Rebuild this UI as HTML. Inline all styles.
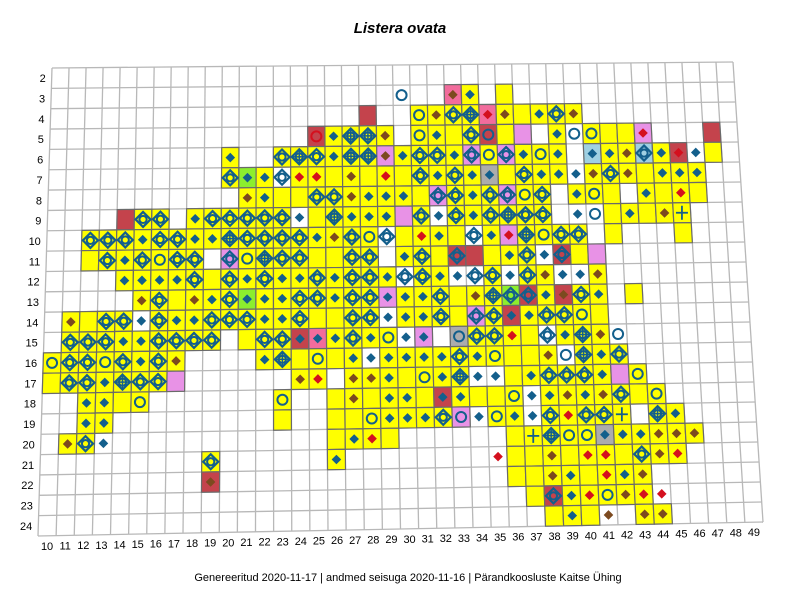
<!DOCTYPE html>
<html><head><meta charset="utf-8"><style>
body{margin:0;background:#fff;}
svg{display:block;font-family:"Liberation Sans",Arial,sans-serif;}
</style></head><body>
<svg id="map" width="800" height="600" viewBox="0 0 800 600" xmlns="http://www.w3.org/2000/svg">
<text x="400" y="33" text-anchor="middle" font-size="15" font-weight="bold" font-style="italic">Listera ovata</text>
<g id="gridg"></g><g id="cellg"></g><g id="markg"></g><g id="labg"></g>
<text x="408" y="581" text-anchor="middle" font-size="11">Genereeritud 2020-11-17  |  andmed seisuga 2020-11-16  |  Pärandkoosluste Kaitse Ühing</text>
</svg>
<script>
// grid extents
const colMin = 10, colMax = 49, rowMin = 2, rowMax = 24;
// occupied cells per row: token = col(2) + background code + marker code
const row3 = "30wo 33pb 34yd 36y-";
const row4 = "28r- 31yo 32yb 33yD 34yx 35pr 36yb 37y- 38yd 39yD 40yb";
const row5 = "25rR 26yd 27yx 28yx 29yb 31yo 32yd 33y- 34yD 35ro 36y- 37l- 39yd 40wo 41yo 42y- 43y- 44lr 48r-";
const row6 = "20yd 23yD 24yx 25yD 26yd 27yx 28yx 29lb 30yd 31yD 32yD 33yd 34lD 35yo 36lD 37yd 38yo 39yd 41bd 42yd 43yb 44bD 45yd 46rr 47wd 48y-";
const row7 = "20yD 21Gd 22yd 23wD 24yr 25yr 26y- 27yb 28y- 29yr 30y- 31yD 32yd 33yD 34yd 35gd 36y- 37yD 38yd 39yd 40wd 41yb 42yD 43yb 44y- 45yd 46yd 47yd";
const row8 = "21yb 22yd 23y- 24y- 25yD 26yD 27yb 28yd 29yd 30yd 31y- 32lD 33yD 34yd 35yD 36lD 37yo 38yD 40yd 41yo 42y- 44yd 45y- 46yr 47y-";
const row9 = "14r- 15yD 16yD 18yd 19yD 20yD 21yD 22yD 23yD 24wd 25y- 26yx 27yd 28yd 29yd 30l- 31yD 32wd 33yD 34yd 35yD 36yx 37yD 38yD 40wd 41wo 42y- 43yd 44y- 45yb 46y+";
const row10 = "12yD 13yD 14yD 15yd 16yD 17yD 18yd 19yd 20yx 21yD 22yD 23yD 24yD 25yd 26yb 27yD 28yo 29wD 30y- 31yr 32yd 33y- 34wD 35yd 36lr 37yx 38yo 39yD 40yD 42y- 46y-";
const row11 = "12y- 13yD 14yd 15yD 16yo 17yD 18yD 20lD 21yo 22yx 23yD 24yD 25y- 26y- 27yD 28yD 30yd 31yD 32y- 33rD 34r- 35y- 36yd 37yD 38wd 39rD 40y- 41l-";
const row12 = "14yd 15yd 16yd 17yd 18yD 19y- 20yD 21yd 22yD 23yd 24yd 25yD 26yd 27yD 28yD 29yd 30wD 31yD 32yd 33wd 34wD 35yD 36wd 37yD 38yb 39wd 40wd 41yb";
const row13 = "15yb 16yD 17y- 18yb 19yd 20yD 21Gd 22yd 23yd 24yD 25yD 26yd 27yD 28yD 29ld 30yd 31yd 32yD 33y- 34yb 35yx 36GD 37rD 38yd 39rb 40yD 41yd 43y-";
const row14 = "11yb 12y- 13yD 14yD 15wd 16yD 17yd 18yd 19yD 20yD 21yD 22yd 23yd 24yD 25y- 26y- 27yD 28yD 29wd 30yd 31yd 32yD 33y- 34lD 35yD 36rd 37yd 38yD 39yD 40yo 41y-";
const row15 = "11yD 12yD 13yD 14yd 15yd 16yD 17yD 18yD 19yD 21y- 22yD 23yD 24rd 25pd 26yd 27yD 28yd 29yo 30wd 31ld 33go 34yD 35yD 36yr 37y- 38wD 39yd 40yx 41yb 42wo";
const row16 = "10yo 11yD 12yD 13yo 14yD 15yd 16yD 17yb 22yd 23yx 24y- 25yo 26y- 27yd 28wd 29yd 30yd 31yd 32yd 33yD 34yd 35yo 36y- 37y- 38yb 39wo 40yx 41yd 42yD";
const row17 = "10y- 11yD 12yD 13yd 14yx 15yD 16yD 17l- 24yb 25yr 27yb 28yb 29yd 30y- 31yo 32yd 33yx 34wd 35wd 36y- 37yd 38yD 39yD 40yD 41yd 42l- 43yo";
const row18 = "12yd 13yd 14y- 15yo 23yo 26y- 27yb 28y- 29yd 30yd 31y- 32rd 33yd 34y- 35y- 36yo 37wd 38yd 39yb 40yd 41yb 42yD 43y- 44yo";
const row19 = "12yd 13yd 23y- 26y- 27y- 28yo 29yd 30yd 31yd 32yD 33lo 34wd 35yo 36yd 37wd 38yD 39yr 40yD 41yD 42y+ 44yx 45yd";
const row20 = "11yb 12yD 13wd 26y- 27yd 28yr 29y- 36y- 37y+ 38yx 39yo 40yo 41gd 42yd 43yd 44yb 45yb 46yb";
const row21 = "19yD 26yd 35wr 36y- 37y- 38yb 39y- 40yr 41yr 42y- 43yD 44yb 45yr";
const row22 = "19rb 36y- 37y- 38yb 39yd 40y- 41yr 42yd 43yb";
const row23 = "37y- 38rD 39yd 40yr 41yo 42yb 43yr 44wr";
const row24 = "38y- 39yd 40y- 41wb 43yb 44yb";
const rowData = {3:row3,4:row4,5:row5,6:row6,7:row7,8:row8,9:row9,10:row10,11:row11,12:row12,13:row13,14:row14,15:row15,16:row16,17:row17,18:row18,19:row19,20:row20,21:row21,22:row22,23:row23,24:row24};

const NS = "http://www.w3.org/2000/svg";
const TL=[52,68], TR=[733,62], BL=[38,536], BR=[763,522];
const nC = colMax-colMin+1, nR = rowMax-rowMin+1;
function P(u,v){
  return [(1-u)*(1-v)*TL[0]+u*(1-v)*TR[0]+(1-u)*v*BL[0]+u*v*BR[0],
          (1-u)*(1-v)*TL[1]+u*(1-v)*TR[1]+(1-u)*v*BL[1]+u*v*BR[1]];
}
function corner(c,r){ return P((c-colMin)/nC,(r-rowMin)/nR); }
function center(c,r){ return P((c-colMin+0.5)/nC,(r-rowMin+0.5)/nR); }
function mk(tag,attrs,parent){ const e=document.createElementNS(NS,tag); for(const k in attrs) e.setAttribute(k,attrs[k]); parent.appendChild(e); return e; }

const gridg=document.getElementById('gridg'), cellg=document.getElementById('cellg'), markg=document.getElementById('markg'), labg=document.getElementById('labg');
// grid lines
for(let i=0;i<=nC;i++){
  const a=P(i/nC,0), b=P(i/nC,1);
  const ln=mk('line',{x1:a[0],y1:a[1],x2:b[0],y2:b[1],stroke:'#b8b8b8','stroke-width':1.3},gridg);
  
  
}
for(let j=0;j<=nR;j++){
  const a=P(0,j/nR), b=P(1,j/nR);
  const ln=mk('line',{x1:a[0],y1:a[1],x2:b[0],y2:b[1],stroke:'#b8b8b8','stroke-width':1.3},gridg);
  
  
}
const BG={y:'#ffff00',r:'#c4434c',p:'#f26c9c',l:'#e892e6',g:'#acacac',b:'#9fd0e2',G:'#8cee2e',w:'none'};
const BLUE='#135f8c';
function diamond(cx,cy,h,attrs){ return mk('polygon',Object.assign({points:`${cx},${cy-h} ${cx+h},${cy} ${cx},${cy+h} ${cx-h},${cy}`},attrs),markg); }
for(const r in rowData){
  const toks=rowData[r].trim().split(/\s+/);
  for(const t of toks){
    const c=+t.slice(0,2), bg=t[2], m=t[3], row=+r;
    const p1=corner(c,row),p2=corner(c+1,row),p3=corner(c+1,row+1),p4=corner(c,row+1);
    if(bg!=='w'){
      const poly=mk('polygon',{points:[p1,p2,p3,p4].map(p=>p.join(',')).join(' '),fill:BG[bg],stroke:'#6a6a6a','stroke-width':1.2},cellg);
      
      
    }
    const [cx,cy]=center(c,row);
    let el=null;
    if(m==='d'){ el=diamond(cx,cy,4.8,{fill:BLUE}); }
    else if(m==='b'){ el=diamond(cx,cy,4.8,{fill:'#7c4a1f'}); }
    else if(m==='r'){ el=diamond(cx,cy,4.8,{fill:'#d4101e'}); }
    else if(m==='o'){ el=mk('circle',{cx:cx,cy:cy,r:5,fill:'none',stroke:BLUE,'stroke-width':2},markg); }
    else if(m==='R'){ el=mk('circle',{cx:cx,cy:cy,r:5,fill:'none',stroke:'#d4101e','stroke-width':2},markg); }
    else if(m==='D'||m==='x'){
      el=mk('g',{},markg);
      mk('polygon',{points:`${cx},${cy-7.5} ${cx+7.5},${cy} ${cx},${cy+7.5} ${cx-7.5},${cy}`,fill:'none',stroke:BLUE,'stroke-width':2.2},el);
      mk('circle',{cx:cx,cy:cy,r:3.6,fill:'none',stroke:BLUE,'stroke-width':2},el);
      if(m==='x'){
        mk('line',{x1:cx-6,y1:cy,x2:cx+6,y2:cy,stroke:BLUE,'stroke-width':1.5},el);
        mk('line',{x1:cx,y1:cy-6,x2:cx,y2:cy+6,stroke:BLUE,'stroke-width':1.5},el);
      }
    }
    else if(m==='+'){
      el=mk('g',{},markg);
      mk('line',{x1:cx-6,y1:cy,x2:cx+6,y2:cy,stroke:BLUE,'stroke-width':1.8},el);
      mk('line',{x1:cx,y1:cy-7,x2:cx,y2:cy+7,stroke:BLUE,'stroke-width':1.8},el);
    }
    if(el){
      
      
    }
  }
}
// row labels
for(let r=rowMin;r<=rowMax;r++){
  const [x,y]=P(0,(r-rowMin+0.5)/nR);
  const t=mk('text',{x:x-6,y:y+4,'text-anchor':'end','font-size':11},labg);
  t.textContent=r;
  
  
}
// column labels
for(let c=colMin;c<=colMax;c++){
  const [x,y]=P((c-colMin+0.5)/nC,1);
  const t=mk('text',{x:x,y:y+14,'text-anchor':'middle','font-size':11},labg);
  t.textContent=c;
  
  
}
</script>
</body></html>
